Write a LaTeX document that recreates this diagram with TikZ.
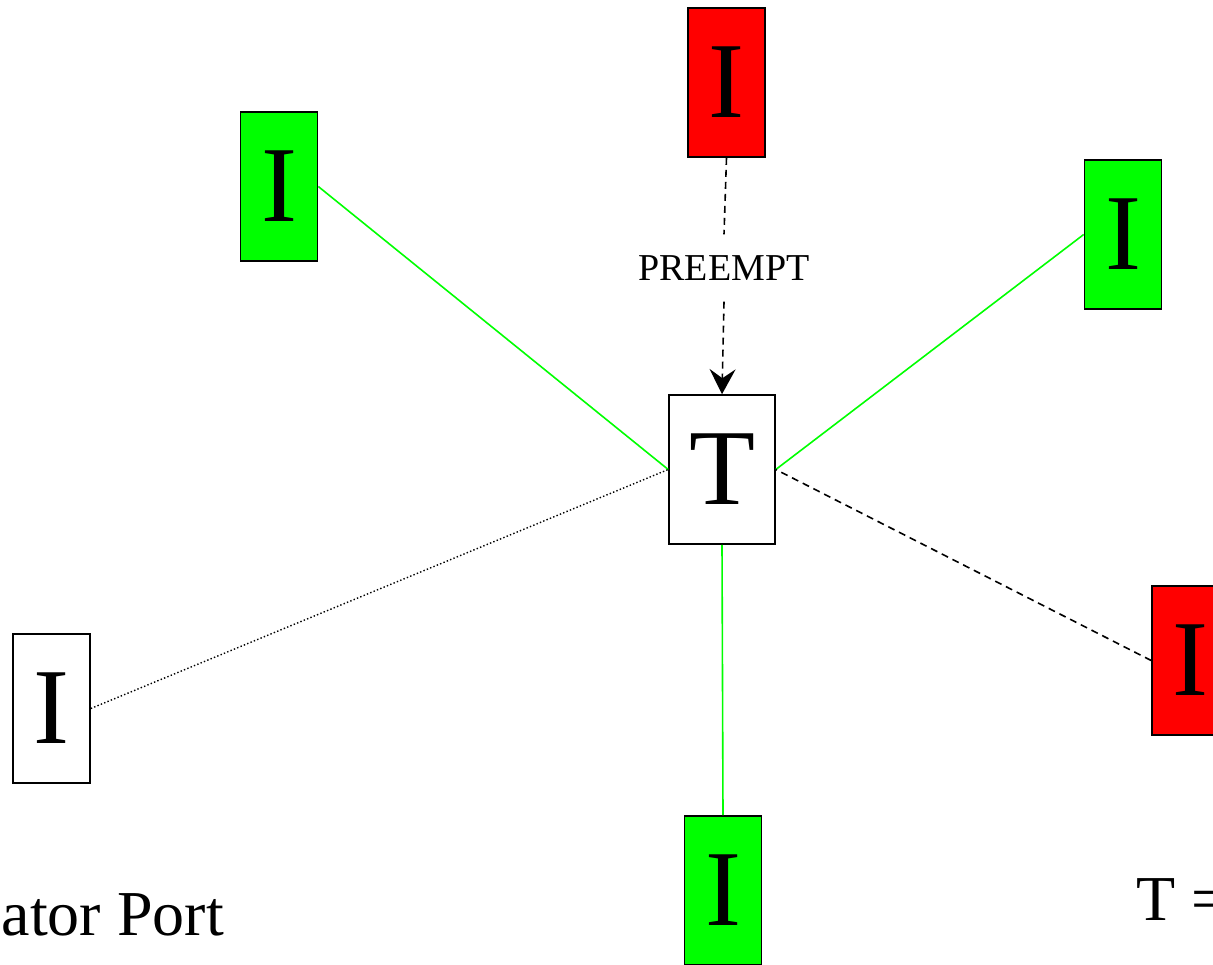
\documentclass[tikz,border=0pt]{standalone}
\usepackage{fontspec}
\setmainfont{Liberation Serif}
\usetikzlibrary{arrows.meta}
\definecolor{portgreen}{RGB}{0,255,0}
\definecolor{portred}{RGB}{255,0,0}
\begin{document}
\begin{tikzpicture}[x=1pt,y=-1pt,
  port/.style={draw=black, line width=1.6pt, inner sep=0pt,
    minimum width=77pt, minimum height=149pt,
    font=\fontsize{108}{110}\selectfont},
  target/.style={port, minimum width=106pt},
  greenlink/.style={draw=portgreen, line width=1.6pt},
  dashlink/.style={draw=black, line width=1.6pt, dash pattern=on 7pt off 5pt},
  dotlink/.style={draw=black, line width=1.4pt, dash pattern=on 1.4pt off 2.2pt},
  legend/.style={font=\fontsize{64}{68}\selectfont, inner sep=0pt}]
  \useasboundingbox (0,0) rectangle (1213,964);

  % target port
  \node[target] (T) at (722,469.5) {T};

  % initiator ports
  \node[port, fill=portred]   (pTop)   at (726.5,82.5)  {I};
  \node[port, fill=portgreen] (pUL)    at (279,186.5)   {I};
  \node[port, fill=portgreen] (pUR)    at (1123,234.5)  {I};
  \node[port]                 (pLeft)  at (51.5,708.5)  {I};
  \node[port, fill=portred]   (pRight) at (1190.5,660.5){I};
  \node[port, fill=portgreen] (pBot)   at (723,890.5)   {I};

  % active links
  \draw[greenlink] (pUL.east) -- (T.west);
  \draw[greenlink] (pUR.west) -- (T.east);
  \draw[greenlink] (pBot.north) -- (T.south);

  % idle and contending links
  \draw[dotlink] (pLeft.east) -- (T.west);
  \draw[dashlink] (pRight.west) -- (T.east);

  % preemption request
  \node[font=\fontsize{38}{40}\selectfont, inner xsep=0pt, inner ysep=21pt]
    (pre) at (724,268) {PREEMPT};
  \draw[dashlink] (pTop.south) -- (pre.north);
  \draw[dashlink, -{Stealth[length=25pt, width=26pt, inset=9pt]}]
    (pre.south) -- (T.north);

  % legend
  \node[legend, anchor=base east] (lgI) at (224,935) {Initiator Port};
  \node[legend, anchor=base west] (lgT) at (1136,920) {T =};
\end{tikzpicture}
\end{document}
